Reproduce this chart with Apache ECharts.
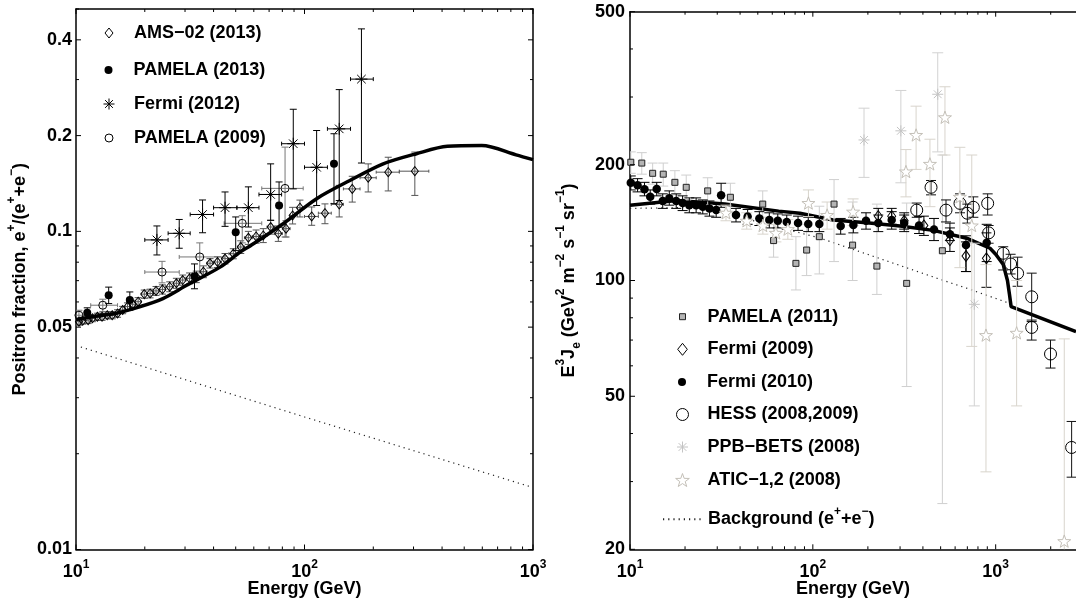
<!DOCTYPE html>
<html>
<head>
<meta charset="utf-8">
<script src="https://cdn.jsdelivr.net/npm/echarts@6/dist/echarts.min.js"></script>
<style>
html,body{margin:0;padding:0;background:#fff;}
#chart{width:1076px;height:605px;}
</style>
</head>
<body>
<div id="chart"></div>
<script>
// ---------------- axes: ranges, ticks, tick labels ----------------
const L_XRANGE = [10, 1000];
const L_YRANGE = [0.01, 0.5];
const R_XRANGE = [10, 2750];
const R_YRANGE = [20, 500];
const L_XTICKS = [10,20,30,40,50,60,70,80,90,100,200,300,400,500,600,700,800,900,1000];
const R_XTICKS = [10,20,30,40,50,60,70,80,90,100,200,300,400,500,600,700,800,900,1000,2000];
const X_MAJOR = [10,100,1000];
const L_YTICKS = [0.01,0.02,0.03,0.04,0.05,0.06,0.07,0.08,0.09,0.1,0.2,0.3,0.4,0.5];
const L_YLABELS = [0.01,0.05,0.1,0.2,0.4];
const R_YTICKS = [20,30,40,50,60,70,80,90,100,200,300,400,500];
const R_YLABELS = [20,50,100,200,500];

// ---------------- LEFT panel: positron fraction ----------------
// [E, value, low, high, E_low, E_high]
const AMS02_2013 = [
[10.3,0.0520,0.0507,0.0533,10.0,10.6],[10.7,0.0524,0.0511,0.0537,10.5,11.0],
[11.3,0.0526,0.0513,0.0539,11.0,11.6],[11.8,0.0533,0.0520,0.0546,11.6,12.1],
[12.4,0.0539,0.0525,0.0553,12.1,12.7],[13.0,0.0539,0.0525,0.0553,12.7,13.4],
[13.7,0.0545,0.0531,0.0559,13.4,14.1],[14.4,0.0545,0.0531,0.0559,14.1,14.8],
[15.2,0.0552,0.0537,0.0567,14.8,15.6],[16.0,0.0566,0.0551,0.0581,15.6,16.4],
[16.8,0.0580,0.0564,0.0596,16.4,17.3],[17.7,0.0590,0.0573,0.0607,17.3,18.2],
[18.7,0.0601,0.0583,0.0619,18.2,19.3],[19.9,0.0635,0.0616,0.0654,19.3,20.5],
[21.1,0.0638,0.0618,0.0658,20.5,21.8],[22.4,0.0650,0.0629,0.0671,21.8,23.1],
[23.9,0.0657,0.0635,0.0679,23.1,24.6],[25.7,0.0670,0.0646,0.0694,24.6,26.7],
[27.5,0.0687,0.0662,0.0712,26.7,28.5],[29.3,0.0703,0.0677,0.0729,28.5,30.3],
[31.4,0.0712,0.0684,0.0740,30.3,32.5],[33.6,0.0720,0.0690,0.0750,32.5,34.8],
[36.1,0.0747,0.0715,0.0779,34.8,37.4],[38.6,0.0794,0.0767,0.0821,37.4,40.0],
[41.6,0.0801,0.0770,0.0832,40.0,43.3],[44.9,0.0821,0.0790,0.0852,43.3,46.7],
[48.8,0.0851,0.0820,0.0882,46.7,50.9],[52.6,0.0893,0.0852,0.0934,50.9,54.6],
[56.8,0.0955,0.0910,0.1000,54.6,59.1],[61.4,0.0964,0.0918,0.1010,59.1,63.9],
[66.0,0.0971,0.0922,0.1020,63.9,68.6],[71.1,0.1032,0.0980,0.1084,68.6,74.0],
[76.8,0.0984,0.0930,0.1040,74.0,80.0],[83.0,0.1020,0.0960,0.1080,80.0,86.5],
[88.7,0.1122,0.1055,0.1190,86.5,93.0],[95.5,0.1187,0.1110,0.1254,93.0,100.0],
[107.5,0.1114,0.1045,0.1193,100.0,115.0],[122.9,0.1141,0.1057,0.1220,115.0,131.0],
[141.9,0.1216,0.1110,0.1395,131.0,148.0],[161.8,0.1360,0.1236,0.1490,148.0,175.0],
[190.0,0.1474,0.1330,0.1630,175.0,206.0],[232.5,0.1535,0.1340,0.1710,206.0,260.0],
[304.0,0.1546,0.1297,0.1775,260.0,350.0]
];
// [E, value, low, high]
const PAMELA_2013 = [
[11.2,0.0555,0.0535,0.0575],[13.9,0.0630,0.0593,0.0668],[17.2,0.0608,0.0565,0.0645],
[33.0,0.0722,0.0660,0.0790],[50.0,0.0993,0.0870,0.1110],[77.4,0.1206,0.1031,0.1430],
[134.6,0.1630,0.1222,0.2027]
];
const FERMI_2012 = [
[22.6,0.0940,0.0843,0.1040,20.0,25.3],[28.3,0.0986,0.0885,0.1090,25.3,31.6],
[35.8,0.1130,0.0990,0.1255,31.6,40.0],[44.9,0.1187,0.1037,0.1330,40.0,50.6],
[56.8,0.1187,0.1032,0.1380,50.6,63.2],[71.1,0.1306,0.1083,0.1630,63.2,79.4],
[89.3,0.1886,0.1360,0.2420,79.4,100.0],[113.0,0.1590,0.1206,0.2075,100.0,126.0],
[141.9,0.2100,0.1250,0.2790,126.0,159.0],[177.5,0.3010,0.1640,0.4330,159.0,200.0]
];
const PAMELA_2009 = [
[10.3,0.0545,0.0525,0.0565,10.0,11.5],[13.1,0.0586,0.0560,0.0612,11.6,15.2],
[23.8,0.0745,0.0689,0.0805,20.0,28.3],[34.8,0.0831,0.0740,0.0920,28.3,44.5],
[53.4,0.1060,0.0920,0.1120,44.5,65.0],[82.2,0.1365,0.0960,0.1840,65.0,98.7]
];
const L_MODEL = [
[10,0.0528],[12,0.0540],[15,0.0553],[18.5,0.0576],[24,0.0615],[30.5,0.0677],
[42.7,0.0772],[52.3,0.0861],[57.8,0.0900],[80.7,0.1057],[113,0.1267],[158,0.1445],
[221,0.163],[309,0.1754],[422,0.185],[597,0.186],[843,0.174],[1000,0.168]
];
const L_BACKGROUND = [[10.5,0.0433],[100,0.0261],[960,0.0158]];

// ---------------- RIGHT panel: E^3 J_e ----------------
// [E, value, low, high]
const PAMELA_2011 = [
[10.1,203,190,216],[11.6,202,189,215],[13.3,190,178,202],[15.2,189,176,202],
[17.6,180,167,193],[20.3,174.7,162,188],[26.6,171,157,185],[35.4,164.6,150,179],
[53.2,158,146,171],[61,127,115,140],[80.8,110.8,94.5,130],[92.5,120,103,140],
[108.5,130,104,156],[130.6,158,112,183],[165,123.6,100,160],[224,109,92,158],
[326,98.3,53,159],[511,119.5,26.3,212]
];
const FERMI_2009 = [
[228,147,140,154],[270,147,140,154],[316,143,136,150],[405,139,131,147],
[562,127.4,119,137],[688,115.8,105.5,126],[890,114.2,96,133]
];
const FERMI_2010 = [
[10.1,179.6,172,187],[11.0,177,170,184],[12.0,172.6,166,180],[12.9,165,158,172],
[14.0,173,166,180],[15.1,161,154,168],[16.4,163.6,157,171],[17.9,161,154,168],
[19.4,159,152,166],[21.1,157,150,164],[23.0,157,150,164],[25.0,155.6,149,162],
[27.2,154,147,161],[29.6,152.5,146,159],[31.5,166.7,155,179],[38,148,142,154],
[44,146.6,140,153],[51,145,139,151],[57.8,143.7,137,150],[64.3,143,137,149],
[72,142,136,148],[83,141,135,147],[94.4,140.2,134,146],[108.5,140.2,134,146],
[142,138.6,132,145],[166.6,139.4,133,146],[195.4,143,136,150],[228,141,134,148],
[270,143.6,136,151],[316,141,134,148],[381,139,132.5,146.6],[460,135.8,127,145],
[562,132,127,141],[688,123.7,105.5,130.7],[893,125.4,112,140]
];
const HESS_2008_2009 = [
[370,152.4,146,159],[443,174.7,167,182],[535,152.4,142,162],[638,158.7,150,168],
[700,149.6,141,158],[755,155,146,165],[904,158.7,148,168],[915,133,125,139],
[1100,117.7,106.5,122.4],[1207,110.4,104,117],[1318,104.4,96.6,115],
[1574,90.7,78.2,104.5],[1574,75.5,70,78.9],[1995,64.4,59.2,70],[2603,36.8,30.8,43]
];
const PPB_BETS_2008 = [
[190.5,232,185.4,280.6],[303,245,179.5,312],[482,305,216,391],[764,86.7,47.2,125]
];
const ATIC_2008 = [
[33.5,150,143,157],[43.5,143,136,150],[53.3,139,132,146],[62.8,133,126,140],
[73,136,128,144],[94.6,159,146.6,172],[119.7,148,136,160],[166,151,139,163],
[323,192,165,219],[367,239,194.5,284],[437,201,155.6,233],[528,265.7,212,319],
[637,165,108,222],[740,139,67.4,212],[885,72.1,31.8,110],[1302,73.1,47.2,100],
[2372,21.0,10,70.5]
];
const R_MODEL = [
[10,157],[18,161.5],[33,158],[65,151.5],[85,149.5],[129,143.6],[197,141.3],
[300,138.6],[456,135],[694,128.8],[931,121.3],[1000,117],[1100,110],[1160,100],
[1190,92],[1215,85.5],[2750,73.6]
];
const R_BACKGROUND = [[10,154],[25,155],[50,142],[109,129],[233,114],[500,100.6],[693,95.5],[1210,87]];

// ---------------- styling helpers ----------------
const FF = '"Liberation Sans", Arial, Helvetica, sans-serif';
const FS = 18;
const RICH = {
  b: {fontSize: FS, fontWeight: 'bold', fontFamily: FF, color: '#000', lineHeight: 28},
  s: {fontSize: 12, fontWeight: 'bold', fontFamily: FF, color: '#000', lineHeight: 12, verticalAlign: 'top'},
  u: {fontSize: 12, fontWeight: 'bold', fontFamily: FF, color: '#000', lineHeight: 12, verticalAlign: 'bottom'}
};
const ASTER = 'path://M0,-5.5L0,5.5M-5.5,0L5.5,0M-3.9,-3.9L3.9,3.9M-3.9,3.9L3.9,-3.9';
const STAR = 'path://M0,-6.5L1.53,-2.1L6.18,-2.01L2.47,0.8L3.82,5.26L0,2.6L-3.82,5.26L-2.47,0.8L-6.18,-2.01L-1.53,-2.1Z';
const DIAM = 'path://M0,-5L4,0L0,5L-4,0Z';
const SQUARE = 'path://M-3,-3L3,-3L3,3L-3,3Z';

function xfmt(v) {
  const e = Math.round(Math.log10(v));
  return Math.abs(v - Math.pow(10, e)) < 1e-6 * v ? '{b|10}{s|' + e + '}' : '';
}

function errRender(color, cap, hcap, hasH) {
  return function (params, api) {
    const E = api.value(0), v = api.value(1), lo = api.value(2), hi = api.value(3);
    const c = api.coord([E, v]), a = api.coord([E, lo]), b = api.coord([E, hi]);
    const st = {stroke: color, lineWidth: 1, fill: null};
    const ch = [
      {type: 'line', shape: {x1: c[0], y1: a[1], x2: c[0], y2: b[1]}, style: st},
      {type: 'line', shape: {x1: c[0] - cap / 2, y1: a[1], x2: c[0] + cap / 2, y2: a[1]}, style: st},
      {type: 'line', shape: {x1: c[0] - cap / 2, y1: b[1], x2: c[0] + cap / 2, y2: b[1]}, style: st}
    ];
    if (hasH) {
      const l = api.coord([api.value(4), v]), r = api.coord([api.value(5), v]);
      ch.push({type: 'line', shape: {x1: l[0], y1: c[1], x2: r[0], y2: c[1]}, style: st});
      if (hcap > 0) {
        ch.push({type: 'line', shape: {x1: l[0], y1: c[1] - hcap / 2, x2: l[0], y2: c[1] + hcap / 2}, style: st});
        ch.push({type: 'line', shape: {x1: r[0], y1: c[1] - hcap / 2, x2: r[0], y2: c[1] + hcap / 2}, style: st});
      }
    }
    return {type: 'group', children: ch};
  };
}
function errSeries(name, rows, color, cap, hcap, hasH, ax) {
  return {name: name + ' err', type: 'custom', xAxisIndex: ax, yAxisIndex: ax, data: rows,
    renderItem: errRender(color, cap, hcap, hasH), clip: true, silent: true, z: 2};
}
function markSeries(name, rows, symbol, size, style, ax) {
  return {name: name, type: 'scatter', xAxisIndex: ax, yAxisIndex: ax,
    data: rows.map(r => [r[0], r[1]]), symbol: symbol, symbolSize: size, symbolKeepAspect: true,
    itemStyle: Object.assign({opacity: 1}, style), clip: true, silent: true, z: 2};
}
function tickSeries(xt, yt, yMajor, xr, yr, right, ax) {
  const d = [];
  xt.forEach(v => { const m = X_MAJOR.indexOf(v) >= 0 ? 1 : 0; d.push([v, yr[0], 1, m]); d.push([v, yr[1], 2, m]); });
  yt.forEach(v => { const m = yMajor.indexOf(v) >= 0 ? 1 : 0; d.push([xr[0], v, 3, m]); if (right) d.push([xr[1], v, 4, m]); });
  return {type: 'custom', xAxisIndex: ax, yAxisIndex: ax, data: d, clip: false, silent: true, z: 20,
    renderItem: function (params, api) {
      const p = api.coord([api.value(0), api.value(1)]);
      const dir = api.value(2), len = api.value(3) ? 5 : 3;
      let x2 = p[0], y2 = p[1];
      if (dir === 1) y2 -= len; else if (dir === 2) y2 += len; else if (dir === 3) x2 += len; else x2 -= len;
      return {type: 'line', shape: {x1: p[0], y1: p[1], x2: x2, y2: y2}, style: {stroke: '#000', lineWidth: 1}};
    }};
}
function yLabelSeries(vals, xr, gap, ax) {
  return {type: 'custom', xAxisIndex: ax, yAxisIndex: ax, data: vals.map(v => [xr[0], v]),
    clip: false, silent: true, z: 20,
    renderItem: function (params, api) {
      const p = api.coord([api.value(0), api.value(1)]);
      return {type: 'text', x: p[0] - gap, y: p[1],
        style: {text: String(api.value(1)), fill: '#000', fontSize: FS, fontWeight: 'bold',
          fontFamily: FF, align: 'right', verticalAlign: 'middle'}};
    }};
}
function xAx(grid, range, pos, labels) {
  return {type: 'log', logBase: 10, gridIndex: grid, min: range[0], max: range[1], position: pos,
    axisLine: {show: true, onZero: false, lineStyle: {color: '#000', width: 1.5}},
    axisTick: {show: false}, splitLine: {show: false}, minorTick: {show: false}, minorSplitLine: {show: false},
    axisLabel: labels ? {show: true, margin: 9, formatter: xfmt, rich: RICH, color: '#000', hideOverlap: false} : {show: false},
    name: labels ? 'Energy (GeV)' : '', nameLocation: 'middle', nameGap: 31, nameMoveOverlap: false,
    nameTextStyle: {fontSize: FS, fontWeight: 'bold', fontFamily: FF, color: '#000'},
    axisPointer: {show: false}};
}
function yAx(grid, range, pos, name, gap) {
  return {type: 'log', logBase: 10, gridIndex: grid, min: range[0], max: range[1], position: pos,
    axisLine: {show: true, onZero: false, lineStyle: {color: '#000', width: 1.5}},
    axisTick: {show: false}, splitLine: {show: false}, minorTick: {show: false}, minorSplitLine: {show: false},
    axisLabel: {show: false},
    name: name || '', nameLocation: 'middle', nameRotate: 90, nameGap: gap || 40, nameMoveOverlap: false,
    nameTextStyle: {fontSize: FS, fontWeight: 'bold', fontFamily: FF, color: '#000', rich: RICH},
    axisPointer: {show: false}};
}
const LEG_TEXT = {fontSize: FS, fontWeight: 'bold', fontFamily: FF, color: '#000', rich: RICH};
// icon centre cx, icon visual width w, icon height h
function leg(name, icon, cx, w, centerY, h, rowH) {
  const item = icon ? {name: name, icon: icon} : name;
  return {data: [item], left: cx - w / 2, top: centerY - (rowH || FS) / 2, itemWidth: 40, itemHeight: h,
    padding: 0, selectedMode: false, textStyle: LEG_TEXT, itemStyle: {borderWidth: 1, opacity: 1}};
}

// ---------------- series ----------------
const series = [
  {type: 'line', name: 'bgL', xAxisIndex: 0, yAxisIndex: 0, data: L_BACKGROUND, symbol: 'none', silent: true,
   lineStyle: {color: '#222', width: 1.2, type: [1.2, 4]}, z: 1},
  errSeries('AMS−02 (2013)', AMS02_2013, '#555', 7, 3, true, 0),
  markSeries('AMS−02 (2013)', AMS02_2013, 'diamond', [7, 9], {color: 'rgba(0,0,0,0)', borderColor: '#000', borderWidth: 1}, 0),
  errSeries('PAMELA (2009)', PAMELA_2009, '#777', 7, 4, true, 0),
  markSeries('PAMELA (2009)', PAMELA_2009, 'circle', 8, {color: 'rgba(0,0,0,0)', borderColor: '#000', borderWidth: 1}, 0),
  errSeries('PAMELA (2013)', PAMELA_2013, '#000', 7, 0, false, 0),
  markSeries('PAMELA (2013)', PAMELA_2013, 'circle', 8, {color: '#000'}, 0),
  errSeries('Fermi (2012)', FERMI_2012, '#000', 7, 4, true, 0),
  markSeries('Fermi (2012)', FERMI_2012, ASTER, 12, {color: 'rgba(0,0,0,0)', borderColor: '#000', borderWidth: 1}, 0),
  {type: 'line', name: 'modelL', xAxisIndex: 0, yAxisIndex: 0, data: L_MODEL, symbol: 'none', smooth: 0.3, silent: true,
   lineStyle: {color: '#000', width: 3.5}, z: 3},
  tickSeries(L_XTICKS, L_YTICKS, L_YLABELS, L_XRANGE, L_YRANGE, true, 0),
  yLabelSeries(L_YLABELS, L_XRANGE, 4, 0),

  {type: 'line', name: 'Background', xAxisIndex: 2, yAxisIndex: 2, data: R_BACKGROUND, symbol: 'none', silent: true,
   color: '#222', lineStyle: {color: '#222', width: 1.2, type: [1.2, 4]}, z: 1},
  {type: 'line', name: 'modelR', xAxisIndex: 2, yAxisIndex: 2, data: R_MODEL, symbol: 'none', silent: true,
   lineStyle: {color: '#000', width: 3.5}, z: 1},
  errSeries('PAMELA (2011)', PAMELA_2011, '#cfcfcf', 10, 0, false, 2),
  markSeries('PAMELA (2011)', PAMELA_2011, 'rect', 6, {color: '#b4b4b4', borderColor: '#222', borderWidth: 1}, 2),
  errSeries('Fermi (2009)', FERMI_2009, '#000', 10, 0, false, 2),
  markSeries('Fermi (2009)', FERMI_2009, 'diamond', [8, 11], {color: 'rgba(0,0,0,0)', borderColor: '#000', borderWidth: 1}, 2),
  errSeries('Fermi (2010)', FERMI_2010, '#000', 10, 0, false, 2),
  markSeries('Fermi (2010)', FERMI_2010, 'circle', 8.5, {color: '#000'}, 2),
  errSeries('HESS (2008,2009)', HESS_2008_2009, '#111', 10, 0, false, 2),
  markSeries('HESS (2008,2009)', HESS_2008_2009, 'circle', 12, {color: 'rgba(0,0,0,0)', borderColor: '#000', borderWidth: 1}, 2),
  errSeries('PPB−BETS (2008)', PPB_BETS_2008, '#d2d2d2', 11, 0, false, 2),
  markSeries('PPB−BETS (2008)', PPB_BETS_2008, ASTER, 11, {color: 'rgba(0,0,0,0)', borderColor: '#c4c4c4', borderWidth: 1}, 2),
  errSeries('ATIC−1,2 (2008)', ATIC_2008, '#d8d4cc', 11, 0, false, 2),
  markSeries('ATIC−1,2 (2008)', ATIC_2008, STAR, 13, {color: '#fff', borderColor: '#c4c0b8', borderWidth: 1}, 2),
  tickSeries(R_XTICKS, R_YTICKS, R_YLABELS, R_XRANGE, R_YRANGE, false, 2),
  yLabelSeries(R_YLABELS, R_XRANGE, 5, 2)
];

const bgLegend = leg('Background', null, 682, 40, 519.3, 8, 28);
bgLegend.formatter = function () { return '{b|Background (e}{s|+}{b|+e}{s|−}{b|)}'; };
bgLegend.itemStyle = {color: 'rgba(0,0,0,0)', borderWidth: 0, opacity: 0};

const option = {
  animation: false,
  backgroundColor: '#fff',
  grid: [
    {left: 76, right: 543, top: 9, bottom: 55.5, containLabel: false, outerBoundsMode: 'none'},
    {left: 630, right: 0, top: 11.7, bottom: 55.7, containLabel: false, outerBoundsMode: 'none'}
  ],
  xAxis: [
    xAx(0, L_XRANGE, 'bottom', true), xAx(0, L_XRANGE, 'top', false),
    xAx(1, R_XRANGE, 'bottom', true), xAx(1, R_XRANGE, 'top', false)
  ],
  yAxis: [
    yAx(0, L_YRANGE, 'left', '{b|Positron fraction, e}{s|+}{b|/(e}{s|+}{b|+e}{s|−}{b|)}', 42),
    yAx(0, L_YRANGE, 'right', '', 0),
    yAx(1, R_YRANGE, 'left', '{b|E}{s|3}{b|J}{u|e}{b| (GeV}{s|2}{b| m}{s|−2}{b| s}{s|−1}{b| sr}{s|−1}{b|)}', 47)
  ],
  legend: [
    leg('AMS−02 (2013)', DIAM, 108.5, 8, 33, 10),
    leg('PAMELA (2013)', null, 108.5, 8, 70, 8),
    leg('Fermi (2012)', null, 108.5, 11, 104, 11),
    leg('PAMELA (2009)', null, 108.5, 8, 138, 8),
    leg('PAMELA (2011)', SQUARE, 682, 6, 316.7, 6),
    leg('Fermi (2009)', DIAM, 682, 9.6, 349.3, 12),
    leg('Fermi (2010)', null, 682, 8, 382, 8),
    leg('HESS (2008,2009)', null, 682, 12, 414.5, 12),
    leg('PPB−BETS (2008)', null, 682, 11, 447, 11),
    leg('ATIC−1,2 (2008)', null, 682, 13.7, 480, 13),
    bgLegend
  ],
  series: series
};

const chart = echarts.init(document.getElementById('chart'), null, {renderer: 'canvas'});
chart.setOption(option);
</script>
</body>
</html>
